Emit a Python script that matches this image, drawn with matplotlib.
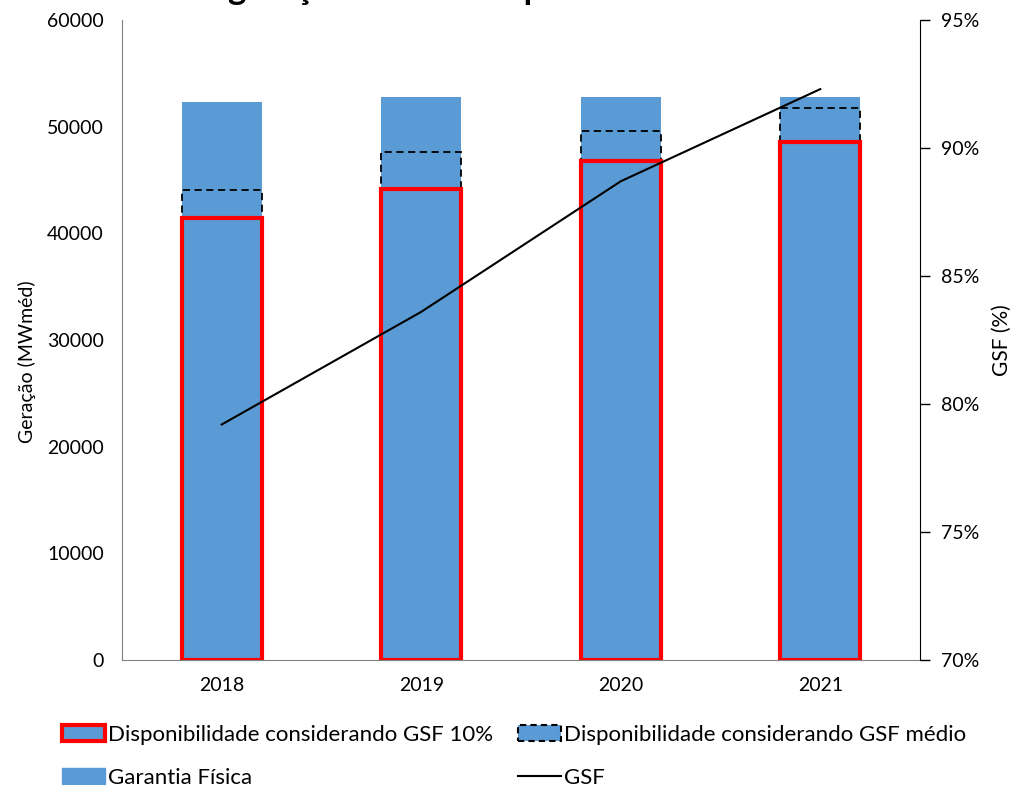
import matplotlib
matplotlib.use("Agg")
import matplotlib.pyplot as plt
from matplotlib.patches import Patch
from matplotlib.lines import Line2D
from matplotlib.ticker import FuncFormatter

# valores
anos = ["2018", "2019", "2020", "2021"]
garantia_fisica = [52300, 52800, 52800, 52800]      # MWmed
disp_gsf_medio = [44050, 47600, 49600, 51750]       # MWmed
disp_gsf_10 = [41400, 44200, 46800, 48550]          # MWmed
gsf = [79.2, 83.6, 88.7, 92.3]                      # %

azul = "#5B9BD5"
plt.rcParams['font.family'] = ['Lato', 'DejaVu Sans']

fig = plt.figure(figsize=(10.12, 7.85), dpi=100)
ax = fig.add_axes([122 / 1012, 1 - 660 / 785, 798 / 1012, 640 / 785])
x = range(len(anos))

# barras: garantia fisica atras, depois GSF medio (tracejado), GSF 10% na frente
ax.bar(x, garantia_fisica, width=0.4, color=azul, zorder=1)
ax.bar(x, disp_gsf_medio, width=0.4, color=azul, edgecolor="black",
       linestyle=(0, (4, 2.5)), linewidth=1.3, zorder=2)
ax.bar(x, disp_gsf_10, width=0.4, color=azul, edgecolor="#FF0000",
       linewidth=3, zorder=3)

ax.set_xlim(-0.5, 3.5)
ax.set_ylim(0, 60000)
ax.set_yticks(range(0, 60001, 10000))
ax.set_xticks(list(x))
ax.set_xticklabels(anos)
ax.tick_params(axis="both", length=0, labelsize=14, pad=13)
ax.tick_params(axis="x", pad=12)
for s in ["top", "right"]:
    ax.spines[s].set_visible(False)
ax.spines["left"].set_color("#808080")
ax.spines["bottom"].set_color("#808080")
ax.set_ylabel("Geração (MWméd)", fontsize=14)
ax.yaxis.set_label_coords(-0.108, 0.466)

# eixo secundario GSF
ax2 = ax.twinx()
ax2.plot(list(x), gsf, color="black", linewidth=1.5, zorder=5)
ax2.set_ylim(70, 95)
ax2.set_yticks(range(70, 96, 5))
ax2.yaxis.set_major_formatter(FuncFormatter(lambda v, p: "%d%%" % v))
ax2.tick_params(axis="y", length=7, width=1, labelsize=14, pad=8)
for s in ["top", "left", "bottom"]:
    ax2.spines[s].set_visible(False)
ax2.spines["right"].set_color("black")
ax2.set_ylabel("GSF (%)", fontsize=15, labelpad=9)

# titulo cortado no topo da figura (so aparecem as descendentes)
fig.text(60 / 1012, 1 + 1 / 785, "Garantia e geração hídrica: disponibilidade",
         fontsize=25, fontweight="bold", ha="left", va="baseline")

h_red = Patch(facecolor=azul, edgecolor="#FF0000", linewidth=3)
h_dash = Patch(facecolor=azul, edgecolor="black", linestyle=(0, (3, 2)), linewidth=1.5)
h_gf = Patch(facecolor=azul, edgecolor=azul)
h_gsf = Line2D([], [], color="black", linewidth=1.5)

common = dict(frameon=False, fontsize=16, handlelength=1.95, handleheight=0.75,
              handletextpad=0.12, labelspacing=1.02, borderpad=0, borderaxespad=0,
              loc="upper left")
fig.legend([h_red, h_gf], ["Disponibilidade considerando GSF 10%", "Garantia Física"],
           bbox_to_anchor=(62 / 1012, 1 - 725 / 785), **common)
fig.legend([h_dash, h_gsf], ["Disponibilidade considerando GSF médio", "GSF"],
           bbox_to_anchor=(518 / 1012, 1 - 725 / 785), **common)

fig.savefig("out.png", dpi=100)
